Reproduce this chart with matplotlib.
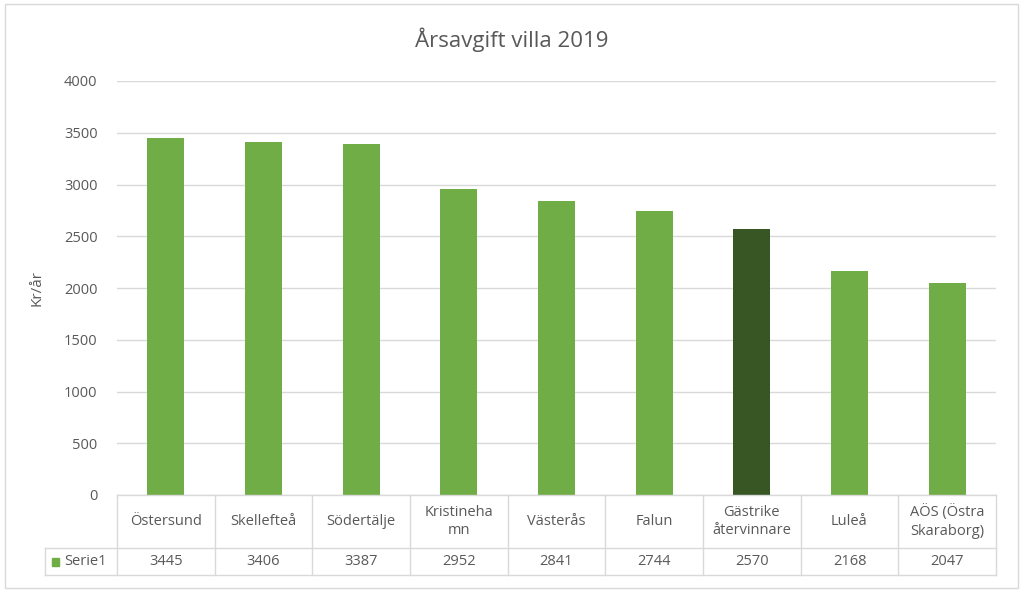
import matplotlib
matplotlib.use("Agg")
import matplotlib.pyplot as plt
from matplotlib.patches import Rectangle

categories = ["Östersund", "Skellefteå", "Södertälje", "Kristineha\nmn", "Västerås",
              "Falun", "Gästrike\nåtervinnare", "Luleå", "AÖS (Östra\nSkaraborg)"]
values = [3445, 3406, 3387, 2952, 2841, 2744, 2570, 2168, 2047]
series_name = "Serie1"
highlight = "Gästrike\nåtervinnare"
yticks = [0, 500, 1000, 1500, 2000, 2500, 3000, 3500, 4000]

plt.rcParams["font.family"] = "Open Sans"
tc = "#595959"
gc = "#D9D9D9"
W, H = 1024, 592
fig = plt.figure(figsize=(W/100, H/100), dpi=100)
fig.patches.append(Rectangle((5/W, 4/H), 1013/W, 584/H, transform=fig.transFigure,
                             fill=False, edgecolor=gc, lw=1))
L, R, T, B = 117, 996, 81, 495
ax = fig.add_axes([L/W, 1-B/H, (R-L)/W, (B-T)/H])
n = len(values)
colors = ["#375623" if c == highlight else "#70AD47" for c in categories]
ax.bar(range(n), values, width=0.38, color=colors, zorder=3)
ax.set_xlim(-0.5, n-0.5)
ax.set_ylim(0, 4000)
ax.set_yticks(yticks)
ax.set_yticklabels([str(t) for t in yticks], color=tc, fontsize=10.5)
ax.yaxis.grid(True, color=gc, lw=1, zorder=0)
ax.tick_params(axis="y", length=0, pad=14)
ax.set_xticks([])
for s in ax.spines.values():
    s.set_visible(False)
ax.set_ylabel("Kr/år", color=tc, fontsize=11, labelpad=14)
fig.text(0.5, 1-40/H, "Årsavgift villa 2019", ha="center", va="center", fontsize=16, color=tc)

# data table
TB = 575
tax = fig.add_axes([L/W, 1-TB/H, (R-L)/W, (TB-B)/H])
tax.set_xlim(-0.5, n-0.5)
tax.set_ylim(TB, B)
tax.axis("off")
mid = 548
lx = -0.5 - (L-45)/((R-L)/n)
kw = dict(color=gc, lw=1, clip_on=False)
tax.plot([-0.5, n-0.5], [B, B], **kw)
tax.plot([lx, n-0.5], [mid, mid], **kw)
tax.plot([lx, n-0.5], [TB, TB], **kw)
tax.plot([lx, lx], [mid, TB], **kw)
for i in range(n+1):
    tax.plot([i-0.5, i-0.5], [B, TB], **kw)
for i, (c, v) in enumerate(zip(categories, values)):
    tax.text(i, (B+mid)/2, c, ha="center", va="center", fontsize=10.5, color=tc, linespacing=1.3, clip_on=False)
    tax.text(i, (mid+TB)/2, str(v), ha="center", va="center", fontsize=10.5, color=tc, clip_on=False)
tax.add_patch(Rectangle((lx+0.07, (mid+TB)/2+4), 0.07, -8, color="#70AD47", clip_on=False))
tax.text(lx+0.2, (mid+TB)/2, series_name, ha="left", va="center", fontsize=10.5, color=tc, clip_on=False)
fig.savefig("out.png", dpi=100)
